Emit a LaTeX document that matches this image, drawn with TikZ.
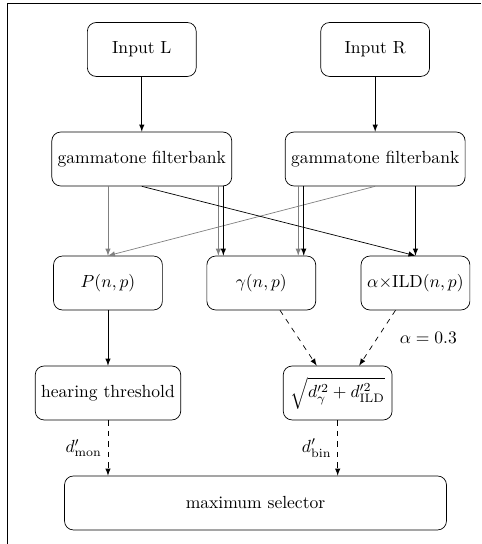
\documentclass[tikz,border=0pt]{standalone}
\usepackage{amsmath}
\usetikzlibrary{arrows,positioning,calc}
\tikzset{blk/.style={draw,rounded corners=5pt,minimum width=2.18cm,minimum height=1.08cm,inner sep=0.333em}}

\begin{document}
\begin{tikzpicture}[>=latex]
	\useasboundingbox (0,0) rectangle (9.635,-10.897);
	\draw[line width=0.7pt] (0.146,-10.897) -- (0.146,-0.07) -- (9.635,-0.07);
	\node[blk] (inL) at (2.84,-0.991) {Input L};
	\node[blk] (inR) at (7.515,-0.991) {Input R};
	\node[blk] (gtL) at (2.84,-3.185) {gammatone filterbank};
	\node[blk] (gtR) at (7.515,-3.185) {gammatone filterbank};
	\node[blk] (pow) at (2.163,-5.669) {$P(n,p)$};
	\node[blk] (gam) at (5.234,-5.669) {$\gamma(n,p)$};
	\node[blk] (ild) at (8.322,-5.669) {$\alpha{\times}\mathrm{ILD}(n,p)$};
	\node[blk] (thr) at (2.163,-7.872) {hearing threshold};
	\node[blk] (comb) at (6.764,-7.872) {$\sqrt{d'^2_\gamma+d'^2_{\mathrm{ILD}}}$};
	\node[blk,minimum width=7.65cm] (maxsel) at (5.118,-10.075) {maximum selector};
	\draw[->] (inL) -- (gtL);
	\draw[->] (inR) -- (gtR);
	\draw[->,gray] (pow.north |- gtL.south) -- (pow.north);
	\draw[->,gray] (gtR.south) -- (pow.north);
	\draw[->,gray] ([xshift=-0.86cm]gam.north |- gtL.south) -- ([xshift=-0.86cm]gam.north);
	\draw[->] ([xshift=-0.76cm]gam.north |- gtL.south) -- ([xshift=-0.76cm]gam.north);
	\draw[->,gray] ([xshift=0.74cm]gam.north |- gtR.south) -- ([xshift=0.74cm]gam.north);
	\draw[->] ([xshift=0.85cm]gam.north |- gtR.south) -- ([xshift=0.85cm]gam.north);
	\draw[->] (gtL.south) -- (ild.north);
	\draw[->] (ild.north |- gtR.south) -- (ild.north);
	\draw[->] (pow) -- (thr);
	\draw[->,dashed] ([xshift=0.375cm]gam.south) -- ([xshift=-0.42cm]comb.north);
	\draw[->,dashed] ([xshift=-0.4cm]ild.south) -- ([xshift=0.43cm]comb.north);
	\node (alph) at (8.58,-6.77) {$\alpha=0.3$};
	\draw[->,dashed] (thr.south) -- (thr.south |- maxsel.north) node[midway,left]{$d'_{\mathrm{mon}}$};
	\draw[->,dashed] (comb.south) -- (comb.south |- maxsel.north) node[midway,left]{$d'_{\mathrm{bin}}$};
\end{tikzpicture}
\end{document}
